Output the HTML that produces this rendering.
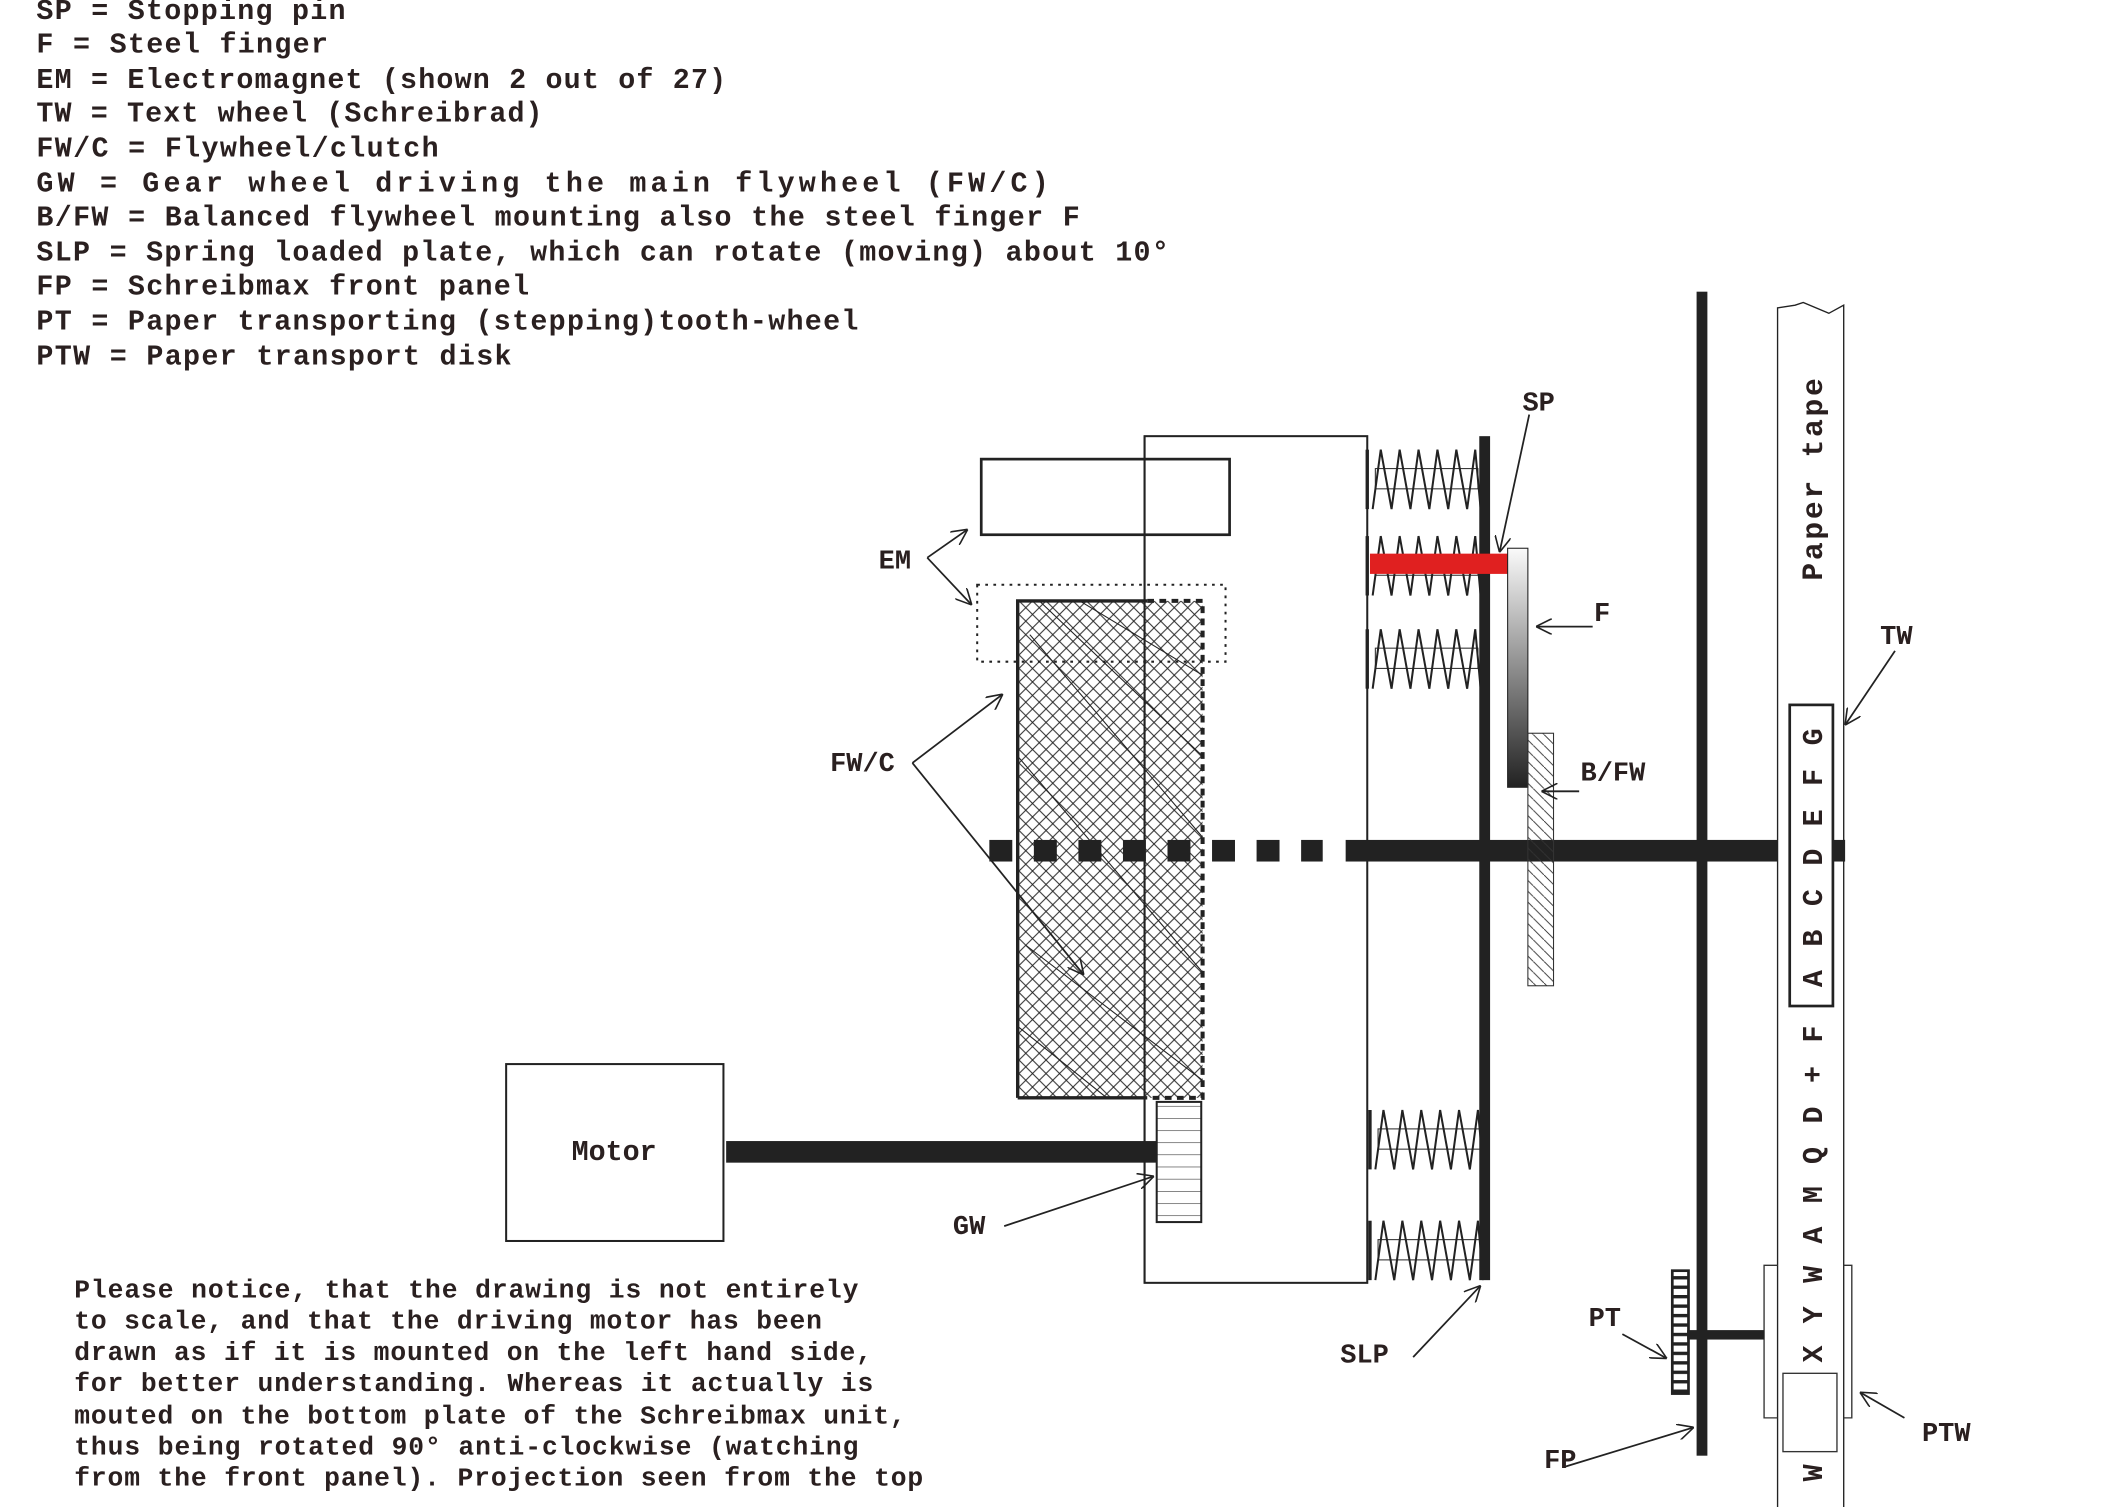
<!DOCTYPE html>
<html><head><meta charset="utf-8"><style>
html,body{margin:0;padding:0;background:#fff;}
svg{display:block;}
text{font-family:"Liberation Mono",monospace;fill:#2a2020;font-weight:bold;}
</style></head><body>
<svg xmlns="http://www.w3.org/2000/svg" width="2115" height="1507" viewBox="0 0 1567 1116" preserveAspectRatio="none">
<defs>
<pattern id="xh" width="10" height="10" patternUnits="userSpaceOnUse">
<path d="M0 0L10 10M10 0L0 10" stroke="#222" stroke-width="0.7"/>
</pattern>
<pattern id="hz" width="10" height="9" patternUnits="userSpaceOnUse">
<path d="M0 0H10" stroke="#222" stroke-width="0.8"/>
</pattern>
<pattern id="dg" width="8" height="8" patternUnits="userSpaceOnUse">
<path d="M0 0L8 8" stroke="#333" stroke-width="0.7"/>
</pattern>
<pattern id="pt" width="12" height="7" patternUnits="userSpaceOnUse">
<rect x="0" y="0" width="12" height="2.5" fill="#222"/>
</pattern>
<linearGradient id="gf" x1="0" y1="0" x2="0" y2="1">
<stop offset="0" stop-color="#fafafa"/><stop offset="1" stop-color="#222"/>
</linearGradient>
<g id="spr">
<line x1="0" y1="0" x2="0" y2="44" stroke="#222" stroke-width="2.5"/>
<rect x="6" y="14" width="76" height="15" fill="none" stroke="#333" stroke-width="0.8"/>
<polyline points="4,44 10,0 18,44 24,0 32,44 38,0 46,44 52,0 60,44 66,0 74,44 80,0 84,44" fill="none" stroke="#222" stroke-width="1.5"/>
</g>
<marker id="ah" viewBox="0 0 10 10" refX="10" refY="5" markerWidth="12" markerHeight="12" orient="auto" markerUnits="userSpaceOnUse">
<path d="M0 0L10 5L0 10" fill="none" stroke="#222" stroke-width="1"/>
</marker>
</defs>

<!-- legend -->
<g font-size="21">
<text x="27" y="14" textLength="229">SP = Stopping pin</text>
<text x="27" y="39" textLength="216">F = Steel finger</text>
<text x="27" y="65" textLength="511">EM = Electromagnet (shown 2 out of 27)</text>
<text x="27" y="90" textLength="375">TW = Text wheel (Schreibrad)</text>
<text x="27" y="116" textLength="298">FW/C = Flywheel/clutch</text>
<text x="27" y="142" textLength="750">GW = Gear wheel driving the main flywheel (FW/C)</text>
<text x="27" y="167" textLength="773">B/FW = Balanced flywheel mounting also the steel finger F</text>
<text x="27" y="193" textLength="839">SLP = Spring loaded plate, which can rotate (moving) about 10°</text>
<text x="27" y="218" textLength="365">FP = Schreibmax front panel</text>
<text x="27" y="244" textLength="609">PT = Paper transporting (stepping)tooth-wheel</text>
<text x="27" y="270" textLength="352">PTW = Paper transport disk</text>
</g>

<!-- bottom note -->
<g font-size="19.5">
<text x="55" y="961" textLength="581">Please notice, that the drawing is not entirely</text>
<text x="55" y="984" textLength="554">to scale, and that the driving motor has been</text>
<text x="55" y="1007" textLength="591">drawn as if it is mounted on the left hand side,</text>
<text x="55" y="1030" textLength="592">for better understanding. Whereas it actually is</text>
<text x="55" y="1054" textLength="616">mouted on the bottom plate of the Schreibmax unit,</text>
<text x="55" y="1077" textLength="581">thus being rotated 90° anti-clockwise (watching</text>
<text x="55" y="1100" textLength="629">from the front panel). Projection seen from the top</text>
</g>

<!-- housing box -->
<rect x="848" y="323" width="165" height="627" fill="none" stroke="#222" stroke-width="1.5"/>

<!-- EM upper -->
<rect x="727" y="340" width="184" height="56" fill="#fff" stroke="#222" stroke-width="2"/>
<line x1="848" y1="340" x2="848" y2="396" stroke="#222" stroke-width="1.5"/>

<!-- FW/C hatched -->
<rect x="754" y="445" width="137" height="368" fill="url(#xh)"/>
<path d="M763 470L891 620M754 560L891 720M770 445L891 560M760 700L891 800M754 760L820 813M800 445L891 500" stroke="#222" stroke-width="0.8"/>
<path d="M754 813L754 445L850 445M754 813L850 813" fill="none" stroke="#222" stroke-width="2.5"/>
<path d="M850 445H891V813H850" fill="none" stroke="#222" stroke-width="3" stroke-dasharray="5,4"/>
<line x1="848" y1="323" x2="848" y2="950" stroke="#222" stroke-width="1.5"/>
<!-- EM dotted -->
<rect x="724" y="433" width="184" height="57" fill="none" stroke="#222" stroke-width="1.5" stroke-dasharray="2,4"/>

<!-- main shaft -->
<g fill="#222">
<rect x="733" y="622" width="17" height="16"/><rect x="766" y="622" width="17" height="16"/>
<rect x="799" y="622" width="17" height="16"/><rect x="832" y="622" width="17" height="16"/>
<rect x="865" y="622" width="17" height="16"/><rect x="898" y="622" width="17" height="16"/>
<rect x="931" y="622" width="17" height="16"/><rect x="964" y="622" width="16" height="16"/>
<rect x="997" y="622" width="370" height="16"/>
</g>

<!-- springs -->
<use href="#spr" x="1013" y="333"/>
<use href="#spr" x="1013" y="397"/>
<use href="#spr" x="1013" y="466"/>
<use href="#spr" x="1015" y="822"/>
<use href="#spr" x="1015" y="904"/>

<!-- SLP plate -->
<rect x="1096" y="323" width="8" height="625" fill="#222"/>

<!-- red bar -->
<rect x="1015" y="410" width="102" height="15" fill="#e02020"/>
<!-- F finger -->
<rect x="1117" y="406" width="15" height="177" fill="url(#gf)" stroke="#222" stroke-width="0.8"/>
<!-- B/FW -->
<rect x="1132" y="543" width="19" height="187" fill="url(#dg)" stroke="#333" stroke-width="0.8"/>

<!-- front panel -->
<rect x="1257" y="216" width="8" height="862" fill="#222"/>

<!-- paper tape -->
<path d="M1317 1117V228L1330 226L1336 224L1355 232L1366 226V1117" fill="#fff" stroke="#222" stroke-width="1"/>
<rect x="1357" y="622" width="10" height="16" fill="#222"/>
<text x="0" y="0" font-size="22" font-weight="normal" transform="translate(1350,430) rotate(-90)" textLength="150">Paper tape</text>
<!-- TW box -->
<rect x="1326" y="522" width="32" height="223" fill="#fff" stroke="#222" stroke-width="2"/>
<g font-size="21" transform="rotate(-90)">
<text x="-552" y="1350">G</text><text x="-582" y="1350">F</text><text x="-612" y="1350">E</text>
<text x="-641" y="1350">D</text><text x="-671" y="1350">C</text><text x="-701" y="1350">B</text>
<text x="-731" y="1350">A</text>
<text x="-772" y="1350">F</text><text x="-802" y="1350">+</text><text x="-832" y="1350">D</text>
<text x="-862" y="1350">Q</text><text x="-891" y="1350">M</text><text x="-921" y="1350">A</text>
<text x="-950" y="1350">W</text><text x="-980" y="1350">Y</text><text x="-1009" y="1350">X</text>
<text x="-1097" y="1350">W</text>
</g>
<!-- PTW -->
<path d="M1317 937H1307V1050H1317M1366 937H1372V1050H1366" fill="none" stroke="#333" stroke-width="1"/>
<rect x="1321" y="1017" width="40" height="58" fill="#fff" stroke="#333" stroke-width="1"/>

<!-- PT -->
<rect x="1250" y="985" width="57" height="7" fill="#222"/>
<rect x="1239" y="941" width="12" height="91" fill="url(#pt)" stroke="#222" stroke-width="2"/>

<!-- Motor -->
<rect x="375" y="788" width="161" height="131" fill="#fff" stroke="#222" stroke-width="1.5"/>
<text x="455" y="859" font-size="21" font-weight="normal" text-anchor="middle">Motor</text>
<rect x="538" y="845" width="319" height="16" fill="#222"/>
<!-- GW -->
<rect x="857" y="816" width="33" height="89" fill="url(#hz)" stroke="#222" stroke-width="1.5"/>

<!-- labels + arrows -->
<g stroke="#222" stroke-width="1.3" fill="none">
<path d="M1133 307L1111 409" marker-end="url(#ah)"/>
<path d="M1180 464H1138" marker-end="url(#ah)"/>
<path d="M1170 586H1142" marker-end="url(#ah)"/>
<path d="M1404 482L1367 537" marker-end="url(#ah)"/>
<path d="M687 413L717 392" marker-end="url(#ah)"/>
<path d="M687 413L720 448" marker-end="url(#ah)"/>
<path d="M676 565L743 514" marker-end="url(#ah)"/>
<path d="M676 565L803 722" marker-end="url(#ah)"/>
<path d="M744 908L855 871" marker-end="url(#ah)"/>
<path d="M1047 1005L1097 952" marker-end="url(#ah)"/>
<path d="M1202 988L1235 1006" marker-end="url(#ah)"/>
<path d="M1160 1086L1255 1057" marker-end="url(#ah)"/>
<path d="M1411 1050L1378 1031" marker-end="url(#ah)"/>
</g>
<g font-size="20">
<text x="1128" y="304">SP</text>
<text x="1181" y="460">F</text>
<text x="1171" y="578">B/FW</text>
<text x="1393" y="477">TW</text>
<text x="651" y="421">EM</text>
<text x="615" y="571">FW/C</text>
<text x="706" y="914">GW</text>
<text x="993" y="1009">SLP</text>
<text x="1177" y="982">PT</text>
<text x="1144" y="1087">FP</text>
<text x="1424" y="1067">PTW</text>
</g>
</svg>
</body></html>
